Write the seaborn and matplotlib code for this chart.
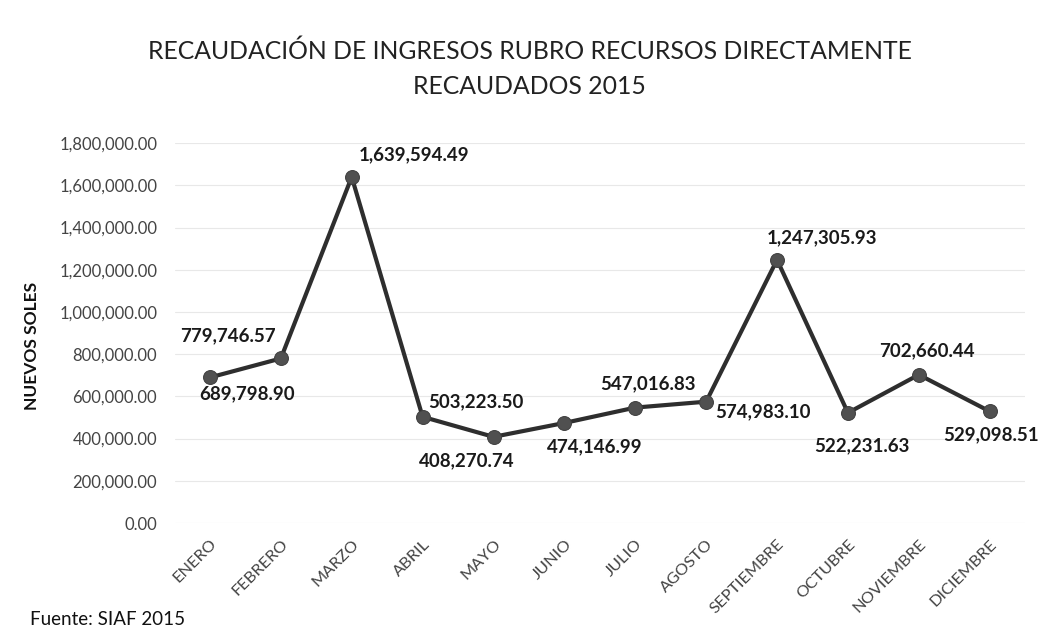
import matplotlib
matplotlib.use("Agg")
import matplotlib.pyplot as plt
import seaborn as sns
import pandas as pd
from matplotlib.ticker import FuncFormatter, MultipleLocator

# Data
meses = ["ENERO", "FEBRERO", "MARZO", "ABRIL", "MAYO", "JUNIO", "JULIO",
         "AGOSTO", "SEPTIEMBRE", "OCTUBRE", "NOVIEMBRE", "DICIEMBRE"]
recaudacion = [689798.90, 779746.57, 1639594.49, 503223.50, 408270.74, 474146.99,
               547016.83, 574983.10, 1247305.93, 522231.63, 702660.44, 529098.51]
# label offsets (points) for each value label
label_dx = [27, -38, 45, 38, -19, 22, 9, 41, 32, 10, 6, 1]
label_dy = [-12, 16, 16, 11, -17, -17, 17, -7, 16, -24, 17, -17]

df = pd.DataFrame({"mes": meses, "valor": recaudacion})

sns.set_style("white")
plt.rcParams["font.family"] = ["Lato", "DejaVu Sans"]

fig = plt.figure(figsize=(10.45, 6.39), dpi=100)
ax = fig.add_axes([0.167, 0.1815, 0.814, 0.5945])

sns.lineplot(data=df, x="mes", y="valor", sort=False, ax=ax, color="#2e2e2e",
             linewidth=3, marker="o", markersize=10, markerfacecolor="#505050",
             markeredgecolor="#404040")

for i, v in enumerate(recaudacion):
    ax.annotate(f"{v:,.2f}", (i, v), xytext=(label_dx[i], label_dy[i]),
                textcoords="offset points", ha="center", va="center",
                fontsize=13.5, fontweight="bold", color="#1a1a1a")

ax.set_xlim(-0.5, 11.5)
ax.set_ylim(0, 1800000)
ax.yaxis.set_major_locator(MultipleLocator(200000))
ax.yaxis.set_major_formatter(FuncFormatter(lambda y, p: f"{y:,.2f}"))
ax.grid(axis="y", color="#e8e8e8", linewidth=0.8)
ax.set_axisbelow(True)
for s in ax.spines.values():
    s.set_visible(False)

ax.tick_params(axis="y", labelsize=12, labelcolor="#444444", length=0, pad=12.5)
ax.tick_params(axis="x", labelsize=11.8, labelcolor="#444444", length=0, pad=10)
plt.setp(ax.get_xticklabels(), rotation=45, ha="right", rotation_mode="anchor")

ax.set_xlabel("")
ax.set_ylabel("NUEVOS SOLES", fontsize=12.5, fontweight="bold", color="#111111")
ax.yaxis.set_label_coords(-0.158, 0.465)

fig.text(0.507, 0.92, "RECAUDACIÓN DE INGRESOS RUBRO RECURSOS DIRECTAMENTE",
         ha="center", va="center", fontsize=17.8, color="#222222")
fig.text(0.507, 0.865, "RECAUDADOS 2015", ha="center", va="center",
         fontsize=17.8, color="#222222")
fig.text(0.029, 0.03, "Fuente: SIAF 2015", ha="left", va="center",
         fontsize=13.5, color="#111111")

fig.savefig("out.png", dpi=100)
